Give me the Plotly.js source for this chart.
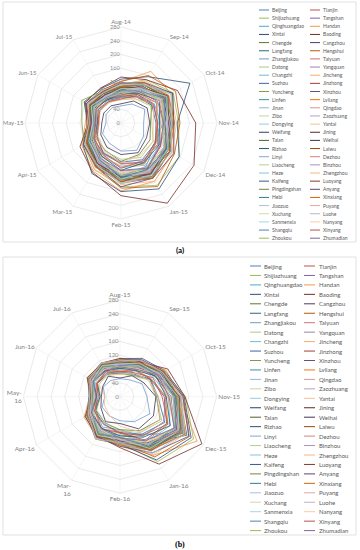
<!DOCTYPE html>
<html><head><meta charset="utf-8">
<script src="https://cdn.plot.ly/plotly-3.0.1.min.js"></script>
<style>html,body{margin:0;padding:0;background:#fff;}#chart{width:360px;height:550px;}</style>
</head><body><div id="chart"></div>
<script>
const cities = ['Beijing','Tianjin','Shijiazhuang','Tangshan','Qinghuangdao','Handan','Xintai','Baoding','Chengde','Cangzhou','Langfang','Hengshui','Zhangjiakou','Taiyuan','Datong','Yangquan','Changzhi','Jincheng','Suzhou','Jinzhong','Yuncheng','Xinzhou','Linfen','Lvliang','Jinan','Qingdao','Zibo','Zaozhuang','Dongying','Yantai','Weifang','Jining','Taian','Weihai','Rizhao','Laiwu','Linyi','Dezhou','Liaocheng','Binzhou','Heze','Zhengzhou','Kaifeng','Luoyang','Pingdingshan','Anyang','Hebi','Xinxiang','Jiaozuo','Puyang','Xuchang','Luohe','Sanmenxia','Nanyang','Shangqiu','Xinyang','Zhoukou','Zhumadian'];
const monthsA = ['Aug-14','Sep-14','Oct-14','Nov-14','Dec-14','Jan-15','Feb-15','Mar-15','Apr-15','May-15','Jun-15','Jul-15'];
const monthsB = ['Aug-15','Sep-15','Oct-15','Nov-15','Dec-15','Jan-16','Feb-16','Mar-16','Apr-16','May-16','Jun-16','Jul-16'];
const monthsBTickText = ['Aug-15','Sep-15','Oct-15','Nov-15','Dec-15','Jan-16','Feb-16','Mar-<br>16','Apr-16','May-<br>16','Jun-16','Jul-16'];
const radialTicks = [0,40,80,120,160,200,240,280];

// panel (a): Aug-14 ... Jul-15, one row per city (same order as cities)
const valuesA = [
[96,118,158,122,116,146,156,124,122,94,108,114],
[108,114,150,142,128,156,140,130,110,84,96,104],
[112,146,176,168,196,210,186,156,126,92,122,104],
[118,128,160,146,166,186,176,146,112,100,116,112],
[76,96,112,116,114,134,120,100,94,70,84,80],
[120,174,170,152,176,196,198,162,132,104,112,106],
[128,156,232,164,196,222,200,170,128,98,124,116],
[134,146,190,218,246,270,212,166,138,96,120,118],
[74,88,104,86,98,106,112,92,86,64,78,72],
[96,122,146,140,144,168,152,132,104,86,98,96],
[110,128,174,154,152,186,166,134,120,88,106,100],
[122,160,184,172,180,214,190,148,126,98,114,110],
[50,64,80,66,76,92,82,68,62,44,50,52],
[92,122,136,126,156,164,154,136,104,88,104,96],
[68,82,100,90,108,116,106,94,78,66,70,70],
[94,106,144,122,144,148,154,126,108,80,92,92],
[82,102,118,112,132,142,130,114,90,76,88,84],
[90,100,134,116,132,150,146,118,100,76,92,84],
[74,90,104,102,116,124,114,102,82,70,76,76],
[88,112,130,124,134,154,140,124,98,82,94,86],
[110,128,154,136,160,168,172,144,124,114,132,108],
[78,96,110,106,124,128,132,106,90,68,84,80],
[104,120,156,138,166,182,166,142,112,90,102,100],
[80,98,120,104,118,138,126,112,88,74,82,82],
[112,136,156,148,154,176,164,150,118,96,112,104],
[74,88,122,104,126,126,130,108,94,72,82,72],
[110,140,162,144,164,172,174,144,124,94,114,110],
[102,122,146,146,154,174,160,142,114,92,100,100],
[90,114,132,128,128,152,140,124,98,82,94,86],
[70,82,110,94,108,110,116,96,84,62,74,68],
[102,118,152,130,150,158,162,130,112,84,104,92],
[96,124,142,140,146,168,156,138,108,88,96,96],
[104,120,154,130,152,156,160,128,114,86,106,100],
[56,74,88,84,86,100,92,82,68,56,58,58],
[86,100,130,112,128,134,138,112,98,74,88,78],
[106,130,150,142,150,174,160,144,114,92,104,102],
[100,116,152,134,154,158,162,130,112,84,100,92],
[106,134,158,152,158,182,168,148,116,94,106,104],
[112,128,168,146,170,176,178,142,122,92,112,102],
[98,124,146,142,146,168,154,136,106,88,98,96],
[100,114,156,136,160,162,164,130,110,82,100,90],
[114,142,168,162,172,196,180,156,122,98,112,110],
[96,124,146,144,152,172,156,136,106,86,96,94],
[104,120,158,140,164,170,172,136,116,86,104,94],
[102,130,152,150,158,180,164,142,112,92,102,100],
[116,136,174,154,178,186,186,146,126,94,116,106],
[100,116,154,136,158,162,164,128,110,82,100,90],
[106,136,160,156,164,186,170,148,116,94,106,104],
[112,130,170,148,170,176,176,142,122,92,112,102],
[94,122,144,142,148,168,154,134,104,84,94,92],
[100,116,154,136,158,162,164,128,108,82,100,90],
[90,118,138,136,144,164,148,130,100,82,90,90],
[90,104,140,120,144,148,150,116,100,76,92,82],
[84,110,130,130,138,158,142,124,94,78,86,84],
[94,108,146,128,152,156,158,124,104,78,96,86],
[70,92,108,108,114,132,118,104,80,66,72,72],
[90,104,140,124,148,152,154,118,100,76,92,82],
[82,106,124,124,132,152,138,120,92,76,84,82]
];

// panel (b): Aug-15 ... Jul-16
const valuesB = [
[86,104,116,176,214,126,114,114,108,78,100,92],
[94,100,132,156,200,144,122,116,104,82,96,106],
[104,122,146,190,246,218,134,136,106,86,100,110],
[106,110,144,166,210,174,136,124,110,84,108,108],
[68,86,104,132,146,132,96,102,80,66,76,82],
[112,118,154,172,258,196,144,136,120,88,110,110],
[110,128,150,186,238,212,138,142,110,90,104,112],
[110,116,160,188,274,226,148,132,116,84,108,104],
[66,72,100,106,134,114,96,88,80,58,76,76],
[94,110,128,166,196,166,120,130,100,84,96,106],
[96,100,134,172,224,156,124,120,106,78,102,98],
[106,122,144,184,232,202,132,138,108,88,102,110],
[52,56,74,78,100,84,70,64,60,44,56,54],
[88,106,124,154,192,174,126,128,96,78,88,98],
[66,70,96,104,140,120,100,88,78,56,72,70],
[90,96,128,142,192,160,130,118,102,74,96,92],
[78,96,112,140,168,154,110,116,88,74,82,90],
[86,92,124,138,184,154,124,112,100,72,92,88],
[70,76,102,110,150,126,104,92,84,58,76,74],
[82,100,118,148,180,166,118,122,92,76,86,94],
[98,106,140,158,210,174,138,126,110,80,102,98],
[72,88,102,128,156,146,104,108,82,68,76,84],
[100,108,144,162,216,180,140,128,110,80,104,100],
[74,90,104,132,160,150,106,110,84,70,78,86],
[102,108,144,164,204,166,134,128,112,82,106,104],
[70,88,104,134,146,134,100,108,82,68,76,86],
[106,112,148,168,208,170,138,130,114,84,108,106],
[94,112,130,164,188,170,124,132,100,84,94,104],
[88,94,128,146,182,146,120,112,100,74,94,92],
[64,80,96,112,134,118,86,62,52,44,70,76],
[96,102,136,156,194,156,128,120,106,78,100,98],
[94,112,130,166,190,170,122,130,100,84,94,104],
[100,106,140,160,200,162,132,124,108,80,104,102],
[54,70,80,104,112,108,78,84,64,54,58,68],
[82,88,120,134,168,136,114,106,94,68,88,86],
[98,116,134,170,194,174,126,134,102,86,96,106],
[96,102,136,154,194,158,128,120,106,78,100,98],
[102,120,140,178,208,182,130,136,104,86,100,110],
[108,114,150,172,220,178,140,130,114,84,108,106],
[94,112,130,166,192,170,122,130,100,84,94,104],
[98,104,140,160,204,166,132,124,108,78,102,100],
[106,124,146,182,218,194,136,142,108,88,102,112],
[98,104,140,160,204,166,132,122,108,78,102,100],
[98,116,136,172,202,180,128,134,102,84,96,106],
[102,108,144,164,208,170,136,126,110,82,104,102],
[106,124,146,182,230,188,144,134,116,84,110,108],
[96,114,134,170,200,176,126,132,100,84,96,106],
[106,112,148,168,218,178,140,130,112,82,106,104],
[104,122,142,178,214,190,134,140,106,88,100,110],
[98,104,138,158,202,164,132,122,106,78,102,100],
[94,112,132,168,196,174,124,130,100,82,94,104],
[94,100,134,152,194,158,126,116,102,76,98,96],
[86,104,122,154,180,162,116,120,92,76,86,98],
[88,94,128,144,186,152,122,110,98,72,92,90],
[90,108,126,160,186,166,118,124,94,80,90,100],
[74,80,110,122,160,130,106,94,86,62,78,78],
[86,104,122,156,182,162,116,122,92,78,88,98],
[86,92,126,142,182,148,120,108,96,70,90,88]
];

// Office-style series palette (accent colours with luminance variants)
const accents = ['#4F81BD','#C0504D','#9BBB59','#8064A2','#4BACC6','#F79646'];
const lumVariants = [[1,0],[0.6,0],[0.8,0.2],[0.8,0],[0.6,0.4],[0.5,0],[0.7,0.3],[0.7,0],[0.5,0.5],[1,0]];

function hexToHsl(hex){
  const r=parseInt(hex.substr(1,2),16)/255,g=parseInt(hex.substr(3,2),16)/255,b=parseInt(hex.substr(5,2),16)/255;
  const mx=Math.max(r,g,b),mn=Math.min(r,g,b);let h=0,s=0;const l=(mx+mn)/2;
  if(mx!==mn){const d=mx-mn;s=l>0.5?d/(2-mx-mn):d/(mx+mn);
    if(mx===r)h=(g-b)/d+(g<b?6:0);else if(mx===g)h=(b-r)/d+2;else h=(r-g)/d+4;h/=6;}
  return [h,s,l];
}
function hslToHex(h,s,l){
  function f(p,q,t){if(t<0)t+=1;if(t>1)t-=1;if(t<1/6)return p+(q-p)*6*t;if(t<1/2)return q;if(t<2/3)return p+(q-p)*(2/3-t)*6;return p;}
  let r,g,b;if(s===0){r=g=b=l;}else{const q=l<0.5?l*(1+s):l+s-l*s;const p=2*l-q;r=f(p,q,h+1/3);g=f(p,q,h);b=f(p,q,h-1/3);}
  const c=v=>('0'+Math.round(v*255).toString(16)).slice(-2);return '#'+c(r)+c(g)+c(b);
}
function seriesColor(i){
  const base=accents[i%6];const v=lumVariants[Math.floor(i/6)%lumVariants.length];
  const hsl=hexToHsl(base);return hslToHex(hsl[0],hsl[1],Math.min(1,hsl[2]*v[0]+v[1]));
}

const W=360,H=550,FONT='Lato, "Open Sans", sans-serif';
const px=x=>x/W, py=y=>1-y/H;

const traces=[];
function addPanel(values, months, subplot){
  values.forEach((row,i)=>{
    traces.push({type:'scatterpolar',mode:'lines',subplot:subplot,
      r:row.concat([row[0]]),theta:months.concat([months[0]]),
      name:cities[i],showlegend:false,hoverinfo:'name+r+theta',
      line:{color:seriesColor(i),width:0.8}});
  });
}
addPanel(valuesA, monthsA, 'polar');
addPanel(valuesB, monthsB, 'polar2');

function polarCfg(cx,cy,rad,months,tickText,fs){
  return {
    domain:{x:[px(cx-rad),px(cx+rad)],y:[py(cy+rad),py(cy-rad)]},
    gridshape:'linear',bgcolor:'rgba(0,0,0,0)',
    radialaxis:{range:[0,280],tickmode:'array',tickvals:radialTicks,angle:90,tickangle:90,
      showline:false,ticks:'',gridcolor:'#E4E4E4',gridwidth:0.8,side:'counterclockwise',
      tickfont:{family:FONT,size:fs,color:'#8C8C8C'}},
    angularaxis:{type:'category',categoryorder:'array',categoryarray:months,direction:'clockwise',rotation:90,
      tickmode:'array',tickvals:months,ticktext:tickText,
      showline:true,linecolor:'#E4E4E4',linewidth:0.8,gridcolor:'#EEEEEE',gridwidth:0.6,ticks:'',
      tickfont:{family:FONT,size:fs+0.5,color:'#7F7F7F'}}
  };
}

const shapes=[
  {type:'rect',xref:'paper',yref:'paper',x0:px(3),x1:px(356),y0:py(242),y1:py(2),line:{color:'#D9D9D9',width:0.8}},
  {type:'rect',xref:'paper',yref:'paper',x0:px(3),x1:px(356),y0:py(535),y1:py(257),line:{color:'#D9D9D9',width:0.8}}
];
const annotations=[
  {xref:'paper',yref:'paper',x:px(180),y:py(250),text:'<b>(a)</b>',showarrow:false,xanchor:'center',yanchor:'middle',font:{family:FONT,size:8,color:'#000'}},
  {xref:'paper',yref:'paper',x:px(180),y:py(544),text:'<b>(b)</b>',showarrow:false,xanchor:'center',yanchor:'middle',font:{family:'"Liberation Serif", serif',size:8,color:'#000'}}
];
function addLegend(top,step,lineX,lineLen,textX,fs){
  cities.forEach((c,i)=>{
    const row=Math.floor(i/2),col=i%2,y=top+row*step;
    shapes.push({type:'line',xref:'paper',yref:'paper',x0:px(lineX[col]),x1:px(lineX[col]+lineLen),y0:py(y),y1:py(y),
      line:{color:seriesColor(i),width:1}});
    annotations.push({xref:'paper',yref:'paper',x:px(textX[col]),y:py(y),text:c,showarrow:false,
      xanchor:'left',yanchor:'middle',font:{family:FONT,size:fs,color:'#595959'}});
  });
}
addLegend(10,8.15,[259,310],10,[270,321],5);
addLegend(266,9.45,[250,304],11,[262,317],6);

const layout={
  width:W,height:H,margin:{l:0,r:0,t:0,b:0},paper_bgcolor:'#fff',showlegend:false,
  font:{family:FONT},
  polar:polarCfg(121,123,96,monthsA,monthsA,5.5),
  polar2:polarCfg(120,396.6,96.6,monthsB,monthsBTickText,6),
  shapes:shapes,annotations:annotations
};
Plotly.newPlot('chart',traces,layout,{staticPlot:true,displayModeBar:false});
</script>
</body></html>
